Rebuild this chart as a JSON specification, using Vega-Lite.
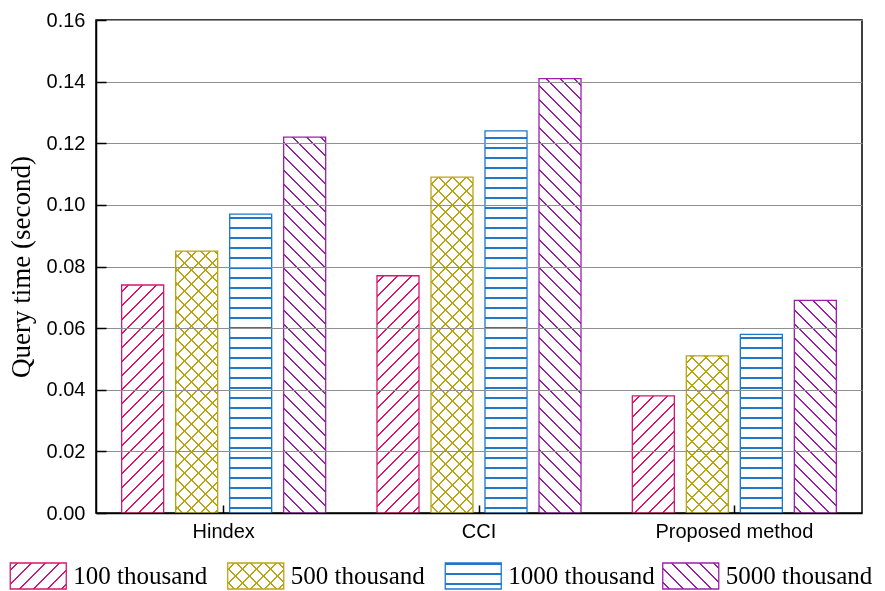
{
  "$schema": "https://vega.github.io/schema/vega-lite/v6.json",
  "background": "white",
  "padding": {"left": 6, "top": 9, "right": 0, "bottom": 0},
  "params": [
    {
      "name": "hatch",
      "value": [
        {"offset":0.011,"color":"#fff"},{"offset":0.011,"color":"#000"},{"offset":0.0145,"color":"#000"},{"offset":0.0145,"color":"#fff"},
        {"offset":0.036,"color":"#fff"},{"offset":0.036,"color":"#000"},{"offset":0.0395,"color":"#000"},{"offset":0.0395,"color":"#fff"},
        {"offset":0.061,"color":"#fff"},{"offset":0.061,"color":"#000"},{"offset":0.0645,"color":"#000"},{"offset":0.0645,"color":"#fff"},
        {"offset":0.086,"color":"#fff"},{"offset":0.086,"color":"#000"},{"offset":0.0895,"color":"#000"},{"offset":0.0895,"color":"#fff"},
        {"offset":0.111,"color":"#fff"},{"offset":0.111,"color":"#000"},{"offset":0.1145,"color":"#000"},{"offset":0.1145,"color":"#fff"},
        {"offset":0.136,"color":"#fff"},{"offset":0.136,"color":"#000"},{"offset":0.1395,"color":"#000"},{"offset":0.1395,"color":"#fff"},
        {"offset":0.161,"color":"#fff"},{"offset":0.161,"color":"#000"},{"offset":0.1645,"color":"#000"},{"offset":0.1645,"color":"#fff"},
        {"offset":0.186,"color":"#fff"},{"offset":0.186,"color":"#000"},{"offset":0.1895,"color":"#000"},{"offset":0.1895,"color":"#fff"},
        {"offset":0.211,"color":"#fff"},{"offset":0.211,"color":"#000"},{"offset":0.2145,"color":"#000"},{"offset":0.2145,"color":"#fff"},
        {"offset":0.236,"color":"#fff"},{"offset":0.236,"color":"#000"},{"offset":0.2395,"color":"#000"},{"offset":0.2395,"color":"#fff"},
        {"offset":0.261,"color":"#fff"},{"offset":0.261,"color":"#000"},{"offset":0.2645,"color":"#000"},{"offset":0.2645,"color":"#fff"},
        {"offset":0.286,"color":"#fff"},{"offset":0.286,"color":"#000"},{"offset":0.2895,"color":"#000"},{"offset":0.2895,"color":"#fff"},
        {"offset":0.311,"color":"#fff"},{"offset":0.311,"color":"#000"},{"offset":0.3145,"color":"#000"},{"offset":0.3145,"color":"#fff"},
        {"offset":0.336,"color":"#fff"},{"offset":0.336,"color":"#000"},{"offset":0.3395,"color":"#000"},{"offset":0.3395,"color":"#fff"},
        {"offset":0.361,"color":"#fff"},{"offset":0.361,"color":"#000"},{"offset":0.3645,"color":"#000"},{"offset":0.3645,"color":"#fff"},
        {"offset":0.386,"color":"#fff"},{"offset":0.386,"color":"#000"},{"offset":0.3895,"color":"#000"},{"offset":0.3895,"color":"#fff"},
        {"offset":0.411,"color":"#fff"},{"offset":0.411,"color":"#000"},{"offset":0.4145,"color":"#000"},{"offset":0.4145,"color":"#fff"},
        {"offset":0.436,"color":"#fff"},{"offset":0.436,"color":"#000"},{"offset":0.4395,"color":"#000"},{"offset":0.4395,"color":"#fff"},
        {"offset":0.461,"color":"#fff"},{"offset":0.461,"color":"#000"},{"offset":0.4645,"color":"#000"},{"offset":0.4645,"color":"#fff"},
        {"offset":0.486,"color":"#fff"},{"offset":0.486,"color":"#000"},{"offset":0.4895,"color":"#000"},{"offset":0.4895,"color":"#fff"},
        {"offset":0.511,"color":"#fff"},{"offset":0.511,"color":"#000"},{"offset":0.5145,"color":"#000"},{"offset":0.5145,"color":"#fff"},
        {"offset":0.536,"color":"#fff"},{"offset":0.536,"color":"#000"},{"offset":0.5395,"color":"#000"},{"offset":0.5395,"color":"#fff"},
        {"offset":0.561,"color":"#fff"},{"offset":0.561,"color":"#000"},{"offset":0.5645,"color":"#000"},{"offset":0.5645,"color":"#fff"},
        {"offset":0.586,"color":"#fff"},{"offset":0.586,"color":"#000"},{"offset":0.5895,"color":"#000"},{"offset":0.5895,"color":"#fff"},
        {"offset":0.611,"color":"#fff"},{"offset":0.611,"color":"#000"},{"offset":0.6145,"color":"#000"},{"offset":0.6145,"color":"#fff"},
        {"offset":0.636,"color":"#fff"},{"offset":0.636,"color":"#000"},{"offset":0.6395,"color":"#000"},{"offset":0.6395,"color":"#fff"},
        {"offset":0.661,"color":"#fff"},{"offset":0.661,"color":"#000"},{"offset":0.6645,"color":"#000"},{"offset":0.6645,"color":"#fff"},
        {"offset":0.686,"color":"#fff"},{"offset":0.686,"color":"#000"},{"offset":0.6895,"color":"#000"},{"offset":0.6895,"color":"#fff"},
        {"offset":0.711,"color":"#fff"},{"offset":0.711,"color":"#000"},{"offset":0.7145,"color":"#000"},{"offset":0.7145,"color":"#fff"},
        {"offset":0.736,"color":"#fff"},{"offset":0.736,"color":"#000"},{"offset":0.7395,"color":"#000"},{"offset":0.7395,"color":"#fff"},
        {"offset":0.761,"color":"#fff"},{"offset":0.761,"color":"#000"},{"offset":0.7645,"color":"#000"},{"offset":0.7645,"color":"#fff"},
        {"offset":0.786,"color":"#fff"},{"offset":0.786,"color":"#000"},{"offset":0.7895,"color":"#000"},{"offset":0.7895,"color":"#fff"},
        {"offset":0.811,"color":"#fff"},{"offset":0.811,"color":"#000"},{"offset":0.8145,"color":"#000"},{"offset":0.8145,"color":"#fff"},
        {"offset":0.836,"color":"#fff"},{"offset":0.836,"color":"#000"},{"offset":0.8395,"color":"#000"},{"offset":0.8395,"color":"#fff"},
        {"offset":0.861,"color":"#fff"},{"offset":0.861,"color":"#000"},{"offset":0.8645,"color":"#000"},{"offset":0.8645,"color":"#fff"},
        {"offset":0.886,"color":"#fff"},{"offset":0.886,"color":"#000"},{"offset":0.8895,"color":"#000"},{"offset":0.8895,"color":"#fff"},
        {"offset":0.911,"color":"#fff"},{"offset":0.911,"color":"#000"},{"offset":0.9145,"color":"#000"},{"offset":0.9145,"color":"#fff"},
        {"offset":0.936,"color":"#fff"},{"offset":0.936,"color":"#000"},{"offset":0.9395,"color":"#000"},{"offset":0.9395,"color":"#fff"},
        {"offset":0.961,"color":"#fff"},{"offset":0.961,"color":"#000"},{"offset":0.9645,"color":"#000"},{"offset":0.9645,"color":"#fff"},
        {"offset":0.986,"color":"#fff"},{"offset":0.986,"color":"#000"},{"offset":0.9895,"color":"#000"},{"offset":0.9895,"color":"#fff"}
      ]
    }
  ],
  "datasets": {
    "times": [
      {"method": "Hindex", "series": "100 thousand", "time": 0.074},
      {"method": "Hindex", "series": "500 thousand", "time": 0.085},
      {"method": "Hindex", "series": "1000 thousand", "time": 0.097},
      {"method": "Hindex", "series": "5000 thousand", "time": 0.122},
      {"method": "CCI", "series": "100 thousand", "time": 0.077},
      {"method": "CCI", "series": "500 thousand", "time": 0.109},
      {"method": "CCI", "series": "1000 thousand", "time": 0.124},
      {"method": "CCI", "series": "5000 thousand", "time": 0.141},
      {"method": "Proposed method", "series": "100 thousand", "time": 0.038},
      {"method": "Proposed method", "series": "500 thousand", "time": 0.051},
      {"method": "Proposed method", "series": "1000 thousand", "time": 0.058},
      {"method": "Proposed method", "series": "5000 thousand", "time": 0.069}
    ],
    "keys": [
      {"series": "100 thousand"},
      {"series": "500 thousand"},
      {"series": "1000 thousand"},
      {"series": "5000 thousand"}
    ]
  },
  "config": {
    "view": {"stroke": "#000", "strokeWidth": 1.5},
    "axis": {
      "labelFont": "Liberation Sans",
      "labelFontSize": 20,
      "labelColor": "#000",
      "domainColor": "#000",
      "domainWidth": 1.5,
      "tickColor": "#000",
      "tickWidth": 1.5,
      "titleFont": "Liberation Serif",
      "titleFontSize": 27,
      "titleFontWeight": "normal",
      "titleColor": "#000",
      "gridColor": "#8f8f8f",
      "gridWidth": 1.2
    }
  },
  "spacing": 20,
  "vconcat": [
    {
      "width": 766,
      "height": 493,
      "data": {"name": "times"},
      "encoding": {
        "x": {
          "field": "method",
          "type": "nominal",
          "sort": ["Hindex", "CCI", "Proposed method"],
          "scale": {"paddingInner": 0, "paddingOuter": 0},
          "axis": {"title": null, "labelAngle": 0, "tickSize": -8, "labelPadding": 16, "bandPosition": 0.5, "grid": false, "zindex": 1}
        },
        "xOffset": {
          "field": "series",
          "type": "nominal",
          "sort": ["100 thousand", "500 thousand", "1000 thousand", "5000 thousand"],
          "scale": {"paddingInner": 0.222, "paddingOuter": 0.475}
        },
        "y": {
          "field": "time",
          "type": "quantitative",
          "scale": {"domain": [0, 0.16], "nice": false},
          "axis": {
            "title": "Query time (second)",
            "values": [0, 0.02, 0.04, 0.06, 0.08, 0.1, 0.12, 0.14, 0.16],
            "format": ".2f",
            "tickSize": -10,
            "labelPadding": 21,
            "titlePadding": 11,
            "grid": true,
            "zindex": 1
          }
        }
      },
      "layer": [
        {
          "mark": {
            "type": "bar",
            "fill": {"expr": "datum.series === '1000 thousand' ? {gradient: 'linear', x1: 0, y1: 1, x2: 0, y2: 1 - 400 / (datum.time * 3081.25), stops: hatch} : {gradient: 'linear', x1: 0, y1: datum.series === '5000 thousand' ? 1 : 0, x2: 23520 / (1764 + pow(datum.time * 3081.25, 2)), y2: datum.series === '5000 thousand' ? 1 - 560 * datum.time * 3081.25 / (1764 + pow(datum.time * 3081.25, 2)) : 560 * datum.time * 3081.25 / (1764 + pow(datum.time * 3081.25, 2)), stops: hatch}"}
          }
        },
        {
          "transform": [{"filter": "datum.series === '500 thousand'"}],
          "mark": {
            "type": "bar",
            "blend": "darken",
            "fill": {"expr": "{gradient: 'linear', x1: 0, y1: 1, x2: 23520 / (1764 + pow(datum.time * 3081.25, 2)), y2: 1 - 560 * datum.time * 3081.25 / (1764 + pow(datum.time * 3081.25, 2)), stops: hatch}"}
          }
        },
        {
          "mark": {"type": "bar", "blend": "screen"},
          "encoding": {
            "fill": {
              "field": "series",
              "type": "nominal",
              "scale": {"domain": ["100 thousand", "500 thousand", "1000 thousand", "5000 thousand"], "range": ["#D6176B", "#B9A514", "#1F78C8", "#9A20AA"]},
              "legend": null
            }
          }
        },
        {
          "mark": {"type": "bar", "filled": false, "strokeWidth": 1.3},
          "encoding": {
            "stroke": {
              "field": "series",
              "type": "nominal",
              "scale": {"domain": ["100 thousand", "500 thousand", "1000 thousand", "5000 thousand"], "range": ["#D6176B", "#B9A514", "#1F78C8", "#9A20AA"]},
              "legend": null
            }
          }
        }
      ]
    },
    {
      "width": 784,
      "height": 26,
      "view": {"stroke": null},
      "data": {"name": "keys"},
      "encoding": {
        "x": {
          "field": "series",
          "type": "nominal",
          "sort": ["100 thousand", "500 thousand", "1000 thousand", "5000 thousand"],
          "scale": {"paddingInner": 0, "paddingOuter": 0, "range": [-86, 784]},
          "axis": null
        }
      },
      "layer": [
        {
          "mark": {
            "type": "bar",
            "width": 56,
            "xOffset": -80.5,
            "fill": {"expr": "datum.series === '1000 thousand' ? {gradient: 'linear', x1: 0, y1: 1, x2: 0, y2: -14.3846, stops: hatch} : {gradient: 'linear', x1: 0, y1: datum.series === '5000 thousand' ? 1 : 0, x2: 8.2267, y2: datum.series === '5000 thousand' ? -2.8195 : 3.8195, stops: hatch}"}
          }
        },
        {
          "transform": [{"filter": "datum.series === '500 thousand'"}],
          "mark": {
            "type": "bar",
            "width": 56,
            "xOffset": -80.5,
            "blend": "darken",
            "fill": {"expr": "{gradient: 'linear', x1: 0, y1: 1, x2: 8.2267, y2: -2.8195, stops: hatch}"}
          }
        },
        {
          "mark": {"type": "bar", "width": 56, "xOffset": -80.5, "blend": "screen"},
          "encoding": {
            "fill": {
              "field": "series",
              "type": "nominal",
              "scale": {"domain": ["100 thousand", "500 thousand", "1000 thousand", "5000 thousand"], "range": ["#D6176B", "#B9A514", "#1F78C8", "#9A20AA"]},
              "legend": null
            }
          }
        },
        {
          "mark": {"type": "bar", "width": 56, "xOffset": -80.5, "filled": false, "strokeWidth": 1.3},
          "encoding": {
            "stroke": {
              "field": "series",
              "type": "nominal",
              "scale": {"domain": ["100 thousand", "500 thousand", "1000 thousand", "5000 thousand"], "range": ["#D6176B", "#B9A514", "#1F78C8", "#9A20AA"]},
              "legend": null
            }
          }
        },
        {
          "mark": {"type": "text", "align": "left", "dx": -45.5, "baseline": "middle", "font": "Liberation Serif", "fontSize": 25, "color": "#000"},
          "encoding": {"text": {"field": "series"}}
        }
      ]
    }
  ]
}
